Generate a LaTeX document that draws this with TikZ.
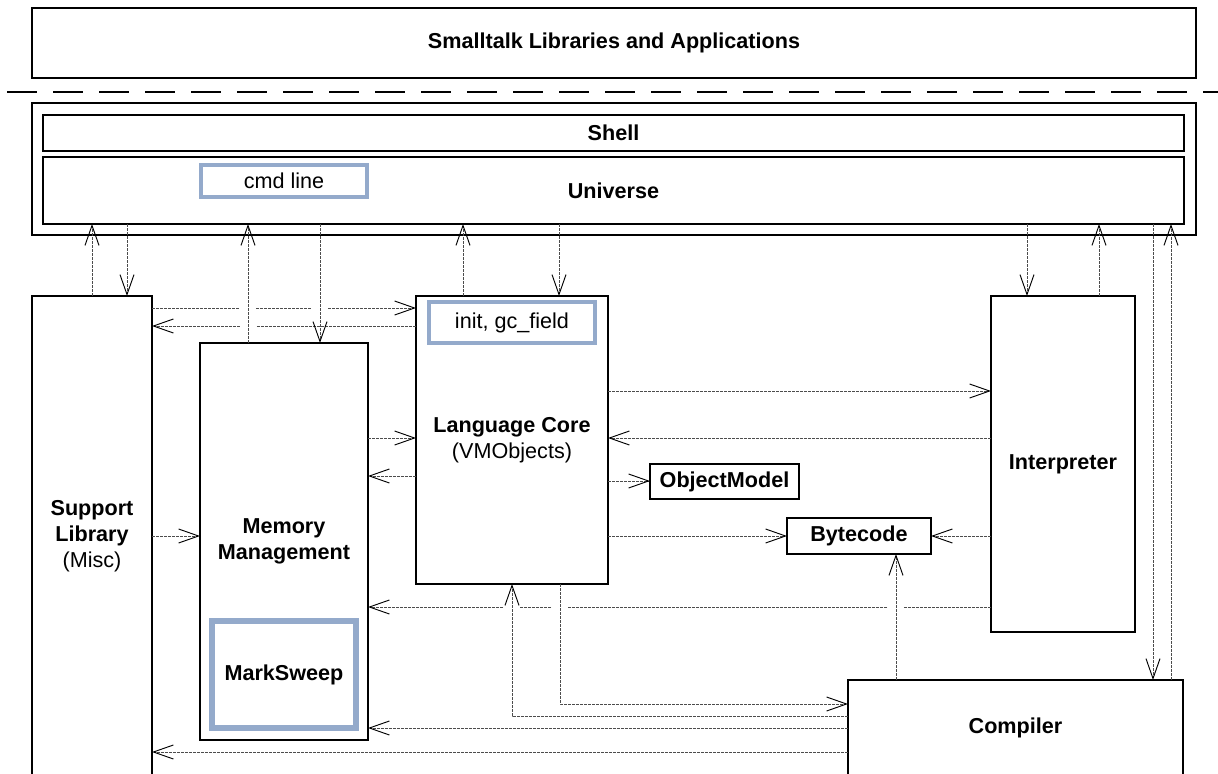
\documentclass[tikz,border=0pt]{standalone}
\usepackage{fontspec}
\setmainfont{Liberation Sans}
\usetikzlibrary{arrows.meta,fit}
\definecolor{layerblue}{RGB}{148,170,203}
\tikzset{
  every node/.style={font=\fontsize{16.2}{19.5}\selectfont},
  box/.style={draw, line width=1pt, inner sep=0pt, outer sep=0pt},
  bluebox/.style={box, draw=layerblue, line width=2.8pt},
  boldtext/.style={align=center, inner sep=0pt, font=\fontsize{16.2}{19.5}\selectfont\bfseries},
  plaintext/.style={align=center, inner sep=0pt, font=\fontsize{16.2}{19.5}\selectfont},
  dep/.style={draw=black!70, line width=0.7pt, dash pattern=on 2pt off 1pt,
    -{Straight Barb[length=15pt,width=10.5pt,line width=0.7pt,black]}},
  jump/.style={fill=white, draw=none},
}
\begin{document}
\begin{tikzpicture}[x=0.75pt,y=-0.75pt]
\useasboundingbox (0,0) rectangle (1218,774);
% layers on top
\node[box, fit={(32,8) (1196,78)}, label={[boldtext]center:Smalltalk Libraries and Applications}] (apps) {};
\draw[line width=1.5pt, dash pattern=on 22.5pt off 12pt] (7,92) -- (1218,92);
\node[box, fit={(32,103) (1196,235)}] (stack) {};
\node[box, fit={(43,115) (1184,151)}, label={[boldtext]center:Shell}] (shell) {};
\node[box, fit={(43,157) (1184,224)}, label={[boldtext]center:Universe}] (univ) {};
\node[bluebox, fit={(201,165) (367,197)}, label={[plaintext]center:cmd line}] (cmd) {};
% components
\node[box, fit={(32,296) (152,776)}, label={[boldtext]center:Support\\Library\\\textmd{(Misc)}}] (slib) {};
\node[box, fit={(200,343) (368,740)}, label={[boldtext]center:Memory\\Management}] (mem) {};
\node[bluebox, line width=4.3pt, fit={(212,621) (356,728)}, label={[boldtext]center:MarkSweep}] (msweep) {};
\node[box, fit={(416,296) (608,584)}, label={[boldtext]center:Language Core\\\textmd{(VMObjects)}}] (core) {};
\node[bluebox, fit={(429,302) (595,343)}, label={[plaintext]center:{init, gc\_field}}] (init) {};
\node[box, fit={(650,464) (799,499)}, label={[boldtext]center:ObjectModel}] (objm) {};
\node[box, fit={(787,518) (931,554)}, label={[boldtext]center:Bytecode}] (bcode) {};
\node[box, fit={(991,296) (1135,632)}, label={[boldtext]center:Interpreter}] (interp) {};
\node[box, fit={(848,680) (1183,776)}, label={[boldtext]center:Compiler}] (comp) {};
% horizontal dependencies
\draw[dep] (slib.east |- 0,308) -- (core.west |- 0,308);
\draw[dep] (core.west |- 0,326) -- (slib.east |- 0,326);
\draw[dep] (core.east |- 0,391) -- (interp.west |- 0,391);
\draw[dep] (interp.west |- 0,438) -- (core.east |- 0,438);
\draw[dep] (mem.east |- 0,438) -- (core.west |- 0,438);
\draw[dep] (core.west |- 0,476) -- (mem.east |- 0,476);
\draw[dep] (core.east |- 0,481) -- (objm.west |- 0,481);
\draw[dep] (slib.east |- 0,536) -- (mem.west |- 0,536);
\draw[dep] (core.east |- 0,536) -- (bcode.west |- 0,536);
\draw[dep] (interp.west |- 0,536) -- (bcode.east |- 0,536);
\draw[dep] (interp.west |- 0,607) -- (mem.east |- 0,607);
\draw[dep] (comp.west |- 0,728) -- (mem.east |- 0,728);
\draw[dep] (comp.west |- 0,752) -- (slib.east |- 0,752);
% line jumps
\foreach \gx/\gy in {248/308, 320/308, 248/326, 512/607, 560/607, 896/607}
  \fill[jump] (\gx-8,\gy-2) rectangle (\gx+8,\gy+2);
% vertical dependencies
\draw[dep] (slib.north -| 92,0) -- (univ.south -| 92,0);
\draw[dep] (univ.south -| 127,0) -- (slib.north -| 127,0);
\draw[dep] (mem.north -| 248,0) -- (univ.south -| 248,0);
\draw[dep] (univ.south -| 320,0) -- (mem.north -| 320,0);
\draw[dep] (core.north -| 463,0) -- (univ.south -| 463,0);
\draw[dep] (univ.south -| 559,0) -- (core.north -| 559,0);
\draw[dep] (univ.south -| 1027,0) -- (interp.north -| 1027,0);
\draw[dep] (interp.north -| 1099,0) -- (univ.south -| 1099,0);
\draw[dep] (univ.south -| 1153,0) -- (comp.north -| 1153,0);
\draw[dep] (comp.north -| 1171,0) -- (univ.south -| 1171,0);
\draw[dep] (comp.north -| 896,0) -- (bcode.south -| 896,0);
\draw[dep] (core.south -| 560,0) |- (comp.west |- 0,704);
\draw[dep] (comp.west |- 0,716) -| (core.south -| 512,0);
\end{tikzpicture}
\end{document}
